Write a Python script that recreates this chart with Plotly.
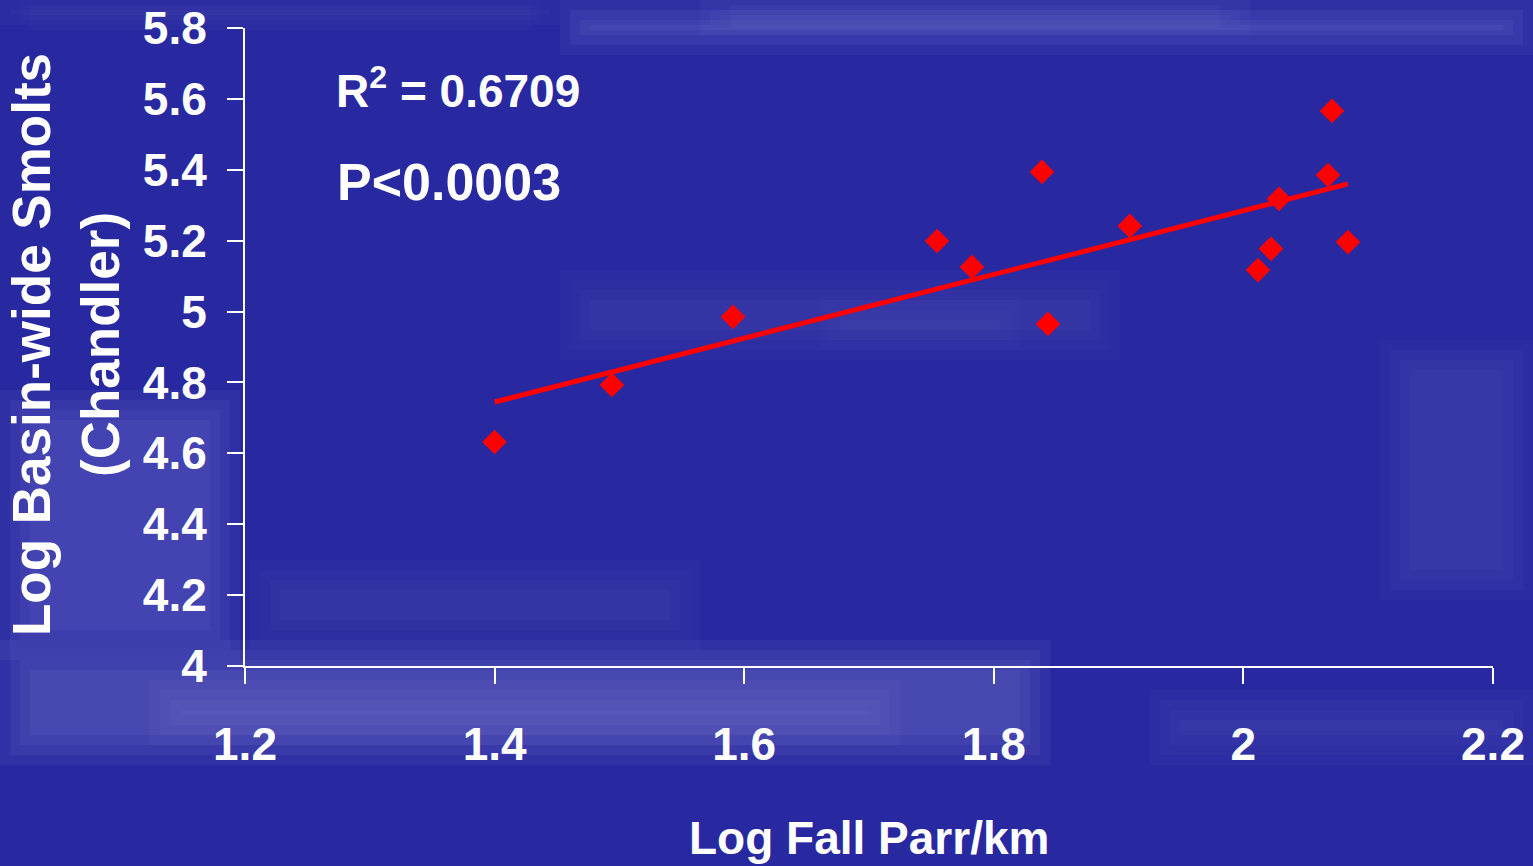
import numpy as np
import plotly.graph_objects as go

# ---- data ----
parr_log = [1.400, 1.494, 1.591, 1.7545, 1.7825, 1.8386, 1.8434, 1.909,
            2.0117, 2.0221, 2.0285, 2.0678, 2.071, 2.0838]
smolt_log = [4.632, 4.793, 4.985, 5.199, 5.126, 5.394, 4.965, 5.2415,
             5.117, 5.177, 5.318, 5.385, 5.566, 5.196]
x_ticks = [1.2, 1.4, 1.6, 1.8, 2.0, 2.2]
x_tick_text = ["1.2", "1.4", "1.6", "1.8", "2", "2.2"]
y_ticks = [4.0, 4.2, 4.4, 4.6, 4.8, 5.0, 5.2, 5.4, 5.6, 5.8]
y_tick_text = ["4", "4.2", "4.4", "4.6", "4.8", "5", "5.2", "5.4", "5.6", "5.8"]
r2_text = "R<sup>2</sup> = 0.6709"
p_text = "P<0.0003"

# linear trend fitted from the data
slope, intercept = np.polyfit(parr_log, smolt_log, 1)
fit_x = [min(parr_log), max(parr_log)]
fit_y = [slope * v + intercept for v in fit_x]

FONT = "Liberation Sans, Arial, sans-serif"
W, H = 1533, 866
L, R, T, B = 245, 40, 28, 200
PW, PH = W - L - R, H - T - B


def px(xp):
    return (xp - L) / PW


def py(yp):
    return (H - B - yp) / PH


fig = go.Figure()
fig.add_trace(go.Scatter(x=fit_x, y=fit_y, mode="lines",
                         line=dict(color="#ff0000", width=5),
                         hoverinfo="skip", showlegend=False))
fig.add_trace(go.Scatter(x=parr_log, y=smolt_log, mode="markers",
                         marker=dict(symbol="diamond", size=19, color="#ff0000",
                                     line=dict(width=0)),
                         showlegend=False))

# soft lighter cloud bands of the slide background (decoration)
bands = [
    (560, 0, 1533, 55, 0.32),
    (700, 0, 1250, 35, 0.22),
    (0, 0, 560, 25, 0.12),
    (0, 640, 1050, 765, 0.34),
    (150, 680, 900, 745, 0.20),
    (0, 390, 240, 660, 0.30),
    (560, 270, 1120, 360, 0.12),
    (820, 300, 1020, 350, 0.10),
    (1380, 340, 1533, 600, 0.16),
    (1150, 690, 1533, 765, 0.18),
    (250, 560, 700, 650, 0.12),
]
shapes = []
for x0, y0, x1, y1, a in bands:
    for k in range(4):
        inset = 10 * k
        shapes.append(dict(type="rect", xref="paper", yref="paper",
                           x0=px(x0 + inset), x1=px(x1 - inset),
                           y0=py(y1 - inset), y1=py(y0 + inset),
                           fillcolor=f"rgba(150,150,225,{a / 4:.3f})",
                           line=dict(width=0), layer="below"))

axis_common = dict(showgrid=False, zeroline=False, showline=True,
                   linecolor="white", linewidth=2, ticks="outside",
                   tickcolor="white", tickwidth=2, ticklen=16,
                   automargin=False,
                   tickfont=dict(family=FONT, size=46, color="white",
                                 weight="bold"))

fig.update_layout(
    width=W, height=H,
    margin=dict(l=L, r=R, t=T, b=B, autoexpand=False),
    paper_bgcolor="#2828a0",
    plot_bgcolor="rgba(0,0,0,0)",
    shapes=shapes,
    xaxis=dict(range=[1.2, 2.2], tickvals=x_ticks, ticktext=x_tick_text,
               ticklabelstandoff=21, **axis_common),
    yaxis=dict(range=[4.0, 5.8], tickvals=y_ticks, ticktext=y_tick_text,
               ticklabelstandoff=11, **axis_common),
    annotations=[
        dict(text=r2_text, xref="paper", yref="paper", x=px(334), y=py(88),
             xanchor="left", yanchor="middle", showarrow=False,
             font=dict(family=FONT, size=46, color="white", weight="bold")),
        dict(text=p_text, xref="paper", yref="paper", x=px(335), y=py(182),
             xanchor="left", yanchor="middle", showarrow=False,
             font=dict(family=FONT, size=52, color="white", weight="bold")),
        dict(text="Log Fall Parr/km", xref="paper", yref="paper", x=0.5,
             y=py(838), xanchor="center", yanchor="middle", showarrow=False,
             font=dict(family=FONT, size=46, color="white", weight="bold")),
        dict(text="Log Basin-wide Smolts<br>(Chandler)", xref="paper",
             yref="paper", x=px(66), y=py(345), xanchor="center",
             yanchor="middle", showarrow=False, textangle=-90,
             font=dict(family=FONT, size=53, color="white", weight="bold")),
    ],
)

fig.write_html("out.html", config={"displayModeBar": False},
               post_script="document.body.style.margin='0';"
                           "document.body.style.background='#2828a0';")
